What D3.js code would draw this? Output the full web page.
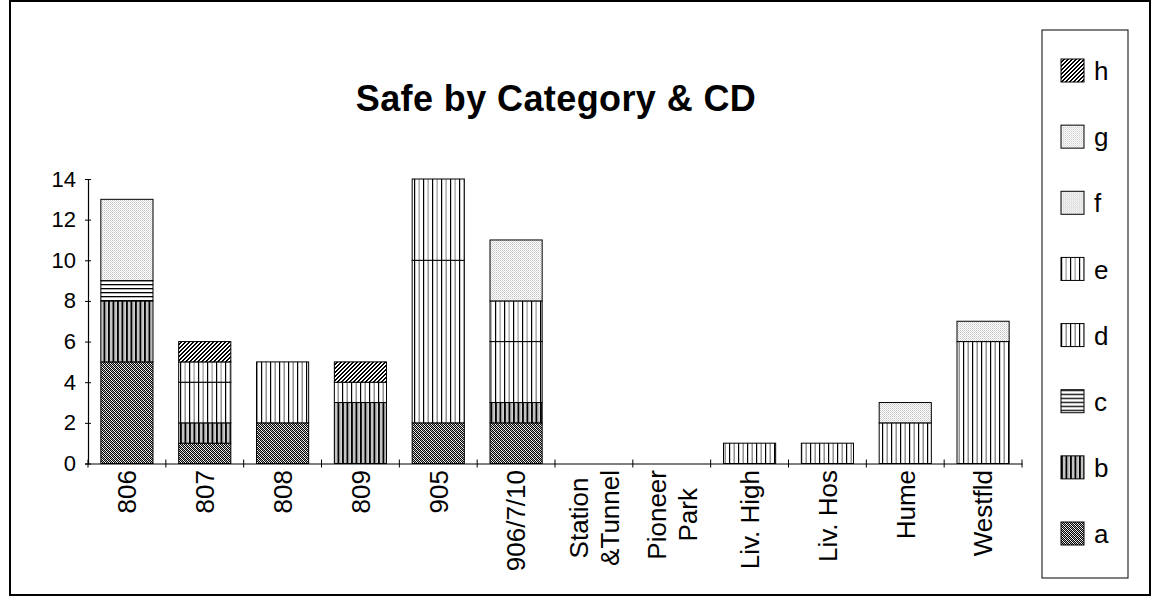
<!DOCTYPE html>
<html>
<head>
<meta charset="utf-8">
<script src="https://cdn.jsdelivr.net/npm/d3@7"></script>
<style>
  html, body { margin: 0; padding: 0; background: #fff; }
  svg { display: block; font-family: "Liberation Sans", Arial, sans-serif; }
</style>
</head>
<body>
<svg id="chart" width="1152" height="596"></svg>
<script>
// Categories (CD areas); multi-line labels are split on "\n"
const categories = ["806", "807", "808", "809", "905", "906/7/10",
  "Station\n&Tunnel", "Pioneer\nPark", "Liv. High", "Liv. Hos", "Hume", "Westfld"];

// Counts per safety category, one array per series
const seriesA = [5, 1, 2, 0, 2, 2, 0, 0, 0, 0, 0, 0];
const seriesB = [3, 1, 0, 3, 0, 1, 0, 0, 0, 0, 0, 0];
const seriesC = [1, 0, 0, 0, 0, 0, 0, 0, 0, 0, 0, 0];
const seriesD = [0, 2, 3, 1, 8, 3, 0, 0, 1, 1, 2, 6];
const seriesE = [0, 1, 0, 0, 4, 2, 0, 0, 0, 0, 0, 0];
const seriesF = [4, 0, 0, 0, 0, 3, 0, 0, 0, 0, 1, 1];
const seriesG = [0, 0, 0, 0, 0, 0, 0, 0, 0, 0, 0, 0];
const seriesH = [0, 1, 0, 1, 0, 0, 0, 0, 0, 0, 0, 0];

const seriesNames = ["a", "b", "c", "d", "e", "f", "g", "h"];
const seriesValues = [seriesA, seriesB, seriesC, seriesD, seriesE, seriesF, seriesG, seriesH];
const yTicks = [0, 2, 4, 6, 8, 10, 12, 14];
const titleText = "Safe by Category & CD";

const svg = d3.select("#chart");
const defs = svg.append("defs");

// --- monochrome fill patterns ---------------------------------------
function pattern(id, w, h, draw) {
  const p = defs.append("pattern").attr("id", id)
    .attr("patternUnits", "userSpaceOnUse").attr("width", w).attr("height", h);
  p.append("rect").attr("width", w).attr("height", h).attr("fill", "#fff");
  draw(p);
}
function px(p, x, y, c, w = 1, h = 1) {
  p.append("rect").attr("x", x).attr("y", y).attr("width", w).attr("height", h).attr("fill", c);
}
// a: fine dark dither
pattern("pat-a", 4, 4, p => {
  for (let y = 0; y < 4; y++) for (let x = 0; x < 4; x++) {
    if ((x + y) % 2 === 0) px(p, x, y, "#000");
    else if ((x - y + 4) % 4 === 1) px(p, x, y, "#aaa");
  }
});
// b: heavy vertical stripes
pattern("pat-b", 4.5, 4, p => { px(p, 0, 0, "#000", 2, 4); px(p, 3, 0, "#999", 1, 4); });
// c: horizontal lines
pattern("pat-c", 4, 4, p => { px(p, 0, 0, "#000", 4, 1.3); });
// d / e: light vertical lines
pattern("pat-d", 9, 4, p => { px(p, 0, 0, "#000", 1.2, 4); px(p, 4.5, 0, "#8a8a8a", 1.4, 4); });
pattern("pat-e", 9, 4, p => { px(p, 0, 0, "#000", 1.2, 4); px(p, 4.5, 0, "#999", 1.2, 4); });
// f / g: light dots
pattern("pat-f", 2, 2, p => { px(p, 0, 0, "#c4c4c4"); px(p, 1, 1, "#dcdcdc"); });
pattern("pat-g", 2, 2, p => { px(p, 0, 0, "#c8c8c8"); px(p, 1, 1, "#e2e2e2"); });
// h: coarse diagonal hatch
pattern("pat-h", 4, 4, p => {
  const rows = ["..XX", ".XX.", "XX..", "X..X"];
  rows.forEach((r, y) => [...r].forEach((ch, x) => { if (ch === "X") px(p, x, y, "#000"); }));
});

// --- outer frame --------------------------------------------------------
svg.append("rect").attr("x", 10).attr("y", 1).attr("width", 1140).attr("height", 594)
  .attr("fill", "none").attr("stroke", "#000").attr("stroke-width", 2);

// --- scales -------------------------------------------------------------
const x = d3.scaleBand().domain(categories).range([88, 1022])
  .paddingInner(0.33).paddingOuter(0.165);
const y = d3.scaleLinear().domain([0, 14]).range([463.5, 179]);

// --- stacked data -------------------------------------------------------
const rows = categories.map((c, i) => {
  const r = { cat: c };
  seriesNames.forEach((s, k) => r[s] = seriesValues[k][i]);
  return r;
});
const stacked = d3.stack().keys(seriesNames)(rows);

// --- bars -----------------------------------------------------------------
svg.append("g").selectAll("g").data(stacked).join("g")
  .attr("fill", d => `url(#pat-${d.key})`)
  .selectAll("rect").data(d => d.filter(v => v[1] - v[0] > 0)).join("rect")
  .attr("x", d => x(d.data.cat))
  .attr("width", x.bandwidth())
  .attr("y", d => y(d[1]))
  .attr("height", d => y(d[0]) - y(d[1]))
  .attr("stroke", "#000").attr("stroke-width", 1);

// --- y axis ---------------------------------------------------------------
const yAxis = svg.append("g").attr("transform", "translate(88,0)")
  .call(d3.axisLeft(y).tickValues(yTicks).tickSize(3).tickPadding(9).tickFormat(d3.format("d")));
yAxis.select(".domain").attr("stroke", "#000").attr("stroke-width", 1.2);
yAxis.selectAll(".tick line").attr("x1", 3).attr("x2", -3).attr("stroke", "#000");
yAxis.selectAll(".tick text").attr("font-size", 22).attr("fill", "#000")
  .attr("font-family", "Liberation Sans, Arial, sans-serif");

// --- x axis: baseline plus ticks at category boundaries -------------------
const xAxis = svg.append("g").attr("transform", `translate(0,${y(0)})`)
  .call(d3.axisBottom(x).tickSize(0).tickFormat(""));
xAxis.select(".domain").attr("stroke", "#000").attr("stroke-width", 1.2);
const gap = x.step() * x.paddingInner() / 2;
const edges = categories.map(c => x(c) + x.bandwidth() + gap);
edges.unshift(x(categories[0]) - gap);
xAxis.selectAll(".edge").data(edges).join("line").attr("class", "edge")
  .attr("x1", d => d).attr("x2", d => d).attr("y1", -4).attr("y2", 4)
  .attr("stroke", "#000");

// rotated category labels
const labelTop = 470;
const lineGap = 31;
categories.forEach(c => {
  const lines = c.split("\n");
  const cx = x(c) + x.bandwidth() / 2;
  const t = svg.append("text")
    .attr("transform", `translate(${cx},${labelTop}) rotate(-90)`)
    .attr("font-size", 26).attr("fill", "#000");
  const spans = lines.map((ln, i) => t.append("tspan")
    .attr("y", (i - (lines.length - 1) / 2) * lineGap)
    .attr("dy", "0.36em").text(ln));
  if (lines.length === 1) {
    t.attr("text-anchor", "end");
    spans[0].attr("x", 0);
  } else {
    const maxLen = d3.max(spans, s => s.node().getComputedTextLength());
    t.attr("text-anchor", "middle");
    spans.forEach(s => s.attr("x", -maxLen / 2));
  }
});

// --- title ----------------------------------------------------------------
svg.append("text").attr("x", 556).attr("y", 111).attr("text-anchor", "middle")
  .attr("font-size", 36).attr("font-weight", "bold").attr("letter-spacing", 0.4)
  .attr("fill", "#000").text(titleText);

// --- legend (top entry is the last series) --------------------------------
const legendY = d3.scalePoint().domain(seriesNames.slice().reverse()).range([71, 534]);
svg.append("rect").attr("x", 1042).attr("y", 30).attr("width", 86).attr("height", 548)
  .attr("fill", "#fff").attr("stroke", "#000").attr("stroke-width", 1);
const leg = svg.append("g").selectAll("g").data(seriesNames).join("g")
  .attr("transform", d => `translate(1061,${legendY(d)})`);
leg.append("rect").attr("x", 0).attr("y", -12).attr("width", 23).attr("height", 23)
  .attr("fill", d => `url(#pat-${d})`).attr("stroke", "#000");
leg.append("text").attr("x", 33).attr("y", 0).attr("dy", "0.35em")
  .attr("font-size", 26).attr("fill", "#000").text(d => d);
</script>
</body>
</html>
